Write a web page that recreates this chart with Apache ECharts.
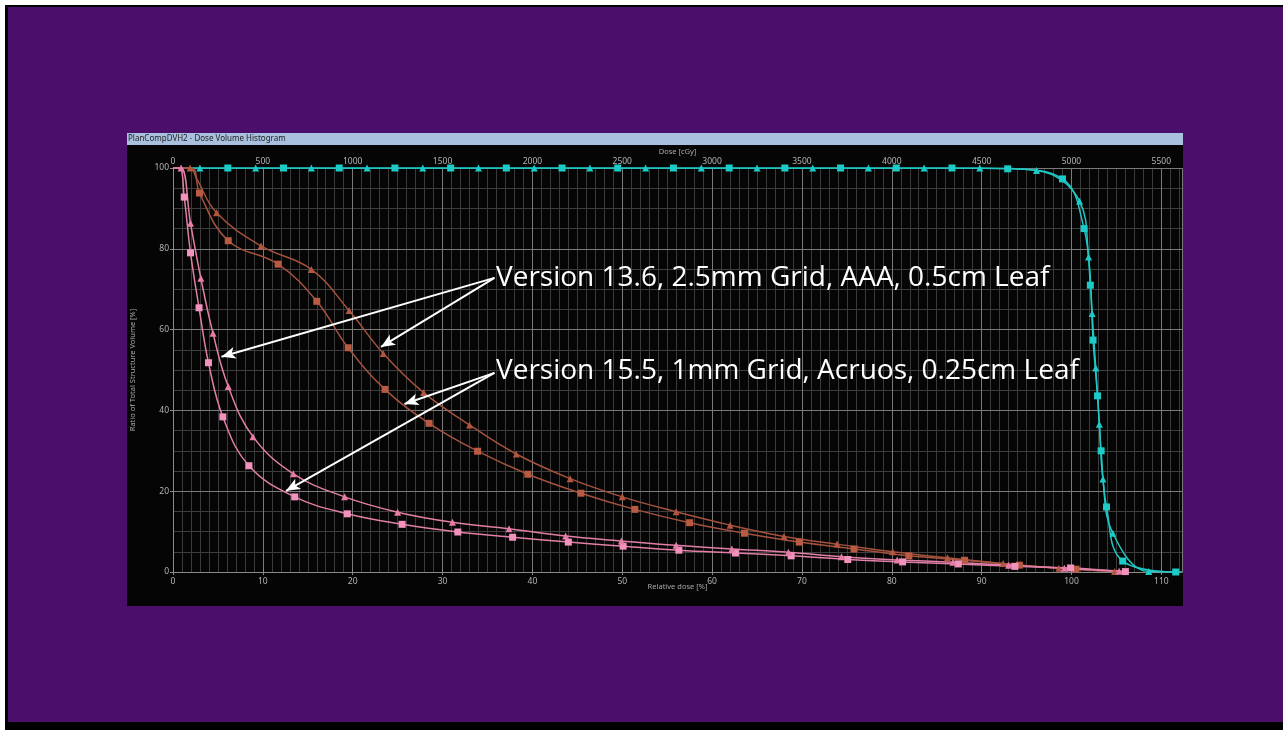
<!DOCTYPE html>
<html>
<head>
<meta charset="utf-8">
<script src="https://cdn.jsdelivr.net/npm/echarts@6/dist/echarts.min.js"></script>
<style>
  html, body { margin: 0; padding: 0; width: 1283px; height: 730px; background: #fff; overflow: hidden; }
  #slide { position: absolute; left: 5px; top: 5px; width: 1290px; height: 725px; background: #000; }
  #slide-face { position: absolute; left: 8px; top: 7px; width: 1290px; height: 715px; background: #4b0f6b; }
  #titlebar { position: absolute; left: 127px; top: 133px; width: 1056px; height: 12px; background: #a9c1de; }
  #panel { position: absolute; left: 127px; top: 145px; width: 1056px; height: 461px; background: #050505; }
  #chart { position: absolute; left: 0; top: 0; width: 1283px; height: 730px; }
</style>
</head>
<body>
<div id="slide"></div>
<div id="slide-face"></div>
<div id="titlebar"></div>
<div id="panel"></div>
<div id="chart"></div>
<script>
// Dose volume histogram: relative dose [%] vs. ratio of structure volume [%]
// Each point: [relative dose %, volume %, marker shown (1) or not (0)]

const relDoseTicks = [0, 10, 20, 30, 40, 50, 60, 70, 80, 90, 100, 110];
const doseTicksCGy = [0, 500, 1000, 1500, 2000, 2500, 3000, 3500, 4000, 4500, 5000, 5500];
const volumeTicks = [0, 20, 40, 60, 80, 100];
const relDoseMax = 112.3;
const prescriptionCGy = 5000;

// Target volume, plan calculated with version 15.5 (squares)
const targetSquares = [
  [0, 100, 0], [6.1, 100, 1], [12.3, 100, 1], [18.5, 100, 1], [24.7, 100, 1], [30.9, 100, 1],
  [37.1, 100, 1], [43.3, 100, 1], [49.5, 100, 1], [55.7, 100, 1], [61.9, 100, 1], [68.1, 100, 1],
  [74.3, 100, 1], [80.5, 100, 1], [86.7, 100, 1], [92.9, 99.8, 1], [99.0, 97.3, 1], [101.4, 85.0, 1],
  [102.1, 71.0, 1], [102.4, 57.4, 1], [102.9, 43.6, 1], [103.3, 30.0, 1], [103.9, 16.1, 1],
  [105.7, 2.7, 1], [111.6, 0.0, 1]
];
// Target volume, version 13.6 (triangles)
const targetTriangles = [
  [0, 100, 0], [3.0, 100, 1], [9.2, 100, 1], [15.4, 100, 1], [21.6, 100, 1], [27.8, 100, 1],
  [34.0, 100, 1], [40.2, 100, 1], [46.4, 100, 1], [52.6, 100, 1], [58.8, 100, 1], [65.0, 100, 1],
  [71.2, 100, 1], [77.4, 100, 1], [83.6, 100, 1], [89.8, 100, 1], [96.1, 99.4, 1], [100.9, 91.8, 1],
  [101.9, 78.0, 1], [102.3, 64.0, 1], [102.7, 50.5, 1], [103.1, 36.6, 1], [103.5, 23.0, 1],
  [104.6, 9.6, 1], [108.6, 0.1, 1], [112.3, 0.0, 0]
];
// Organ A (brown), version 15.5
const organASquares = [
  [0, 100, 0], [2.1, 100, 0], [2.95, 93.8, 1], [6.15, 82.0, 1], [11.7, 76.2, 1], [16.0, 67.0, 1],
  [19.5, 55.5, 1], [23.6, 45.2, 1], [28.5, 36.8, 1], [33.9, 29.9, 1], [39.5, 24.2, 1], [45.4, 19.5, 1],
  [51.4, 15.5, 1], [57.5, 12.2, 1], [63.6, 9.6, 1], [69.7, 7.4, 1], [75.8, 5.7, 1], [81.9, 4.0, 1],
  [88.1, 2.9, 1], [94.2, 1.7, 1], [100.5, 0.7, 1], [106.0, 0.0, 0]
];
// Organ A (brown), version 13.6
const organATriangles = [
  [0, 100, 0], [1.9, 100, 1], [2.6, 97.5, 0], [4.85, 88.9, 1], [9.8, 80.7, 1], [15.4, 74.9, 1],
  [19.6, 64.7, 1], [23.4, 54.1, 1], [27.9, 44.4, 1], [33.0, 36.4, 1], [38.2, 29.2, 1], [44.2, 23.1, 1],
  [50.0, 18.6, 1], [56.0, 14.9, 1], [62.0, 11.6, 1], [68.0, 8.8, 1], [73.9, 6.9, 1], [80.1, 5.0, 1],
  [86.2, 3.5, 1], [92.4, 2.1, 1], [98.6, 0.9, 1], [104.8, 0.1, 1]
];
// Organ B (pink), version 15.5
const organBSquares = [
  [0, 100, 0], [0.75, 100, 0], [1.25, 92.8, 1], [1.95, 79.0, 1], [2.9, 65.4, 1], [3.95, 51.8, 1],
  [5.55, 38.4, 1], [8.45, 26.3, 1], [13.55, 18.6, 1], [19.4, 14.4, 1], [25.5, 11.8, 1], [31.7, 9.9, 1],
  [37.8, 8.6, 1], [44.0, 7.4, 1], [50.1, 6.4, 1], [56.3, 5.4, 1], [62.6, 4.7, 1], [68.8, 4.0, 1],
  [75.1, 3.1, 1], [81.2, 2.5, 1], [87.4, 2.0, 1], [93.7, 1.4, 1], [99.9, 1.0, 1], [106.0, 0.1, 1]
];
// Organ B (pink), version 13.6
const organBTriangles = [
  [0, 100, 0], [0.9, 100, 1], [1.95, 86.3, 1], [3.1, 72.7, 1], [4.45, 59.1, 1], [6.15, 45.9, 1],
  [8.9, 33.5, 1], [13.4, 24.3, 1], [19.1, 18.6, 1], [25.0, 14.8, 1], [31.1, 12.3, 1], [37.4, 10.7, 1],
  [43.7, 8.9, 1], [49.9, 7.7, 1], [56.0, 6.6, 1], [62.2, 5.7, 1], [68.5, 4.9, 1], [74.4, 3.8, 1],
  [80.6, 3.0, 1], [86.8, 2.4, 1], [93.0, 1.7, 1], [99.2, 0.9, 1], [105.3, 0.2, 1]
];

const labelV136 = 'Version 13.6, 2.5mm Grid, AAA, 0.5cm Leaf';
const labelV155 = 'Version 15.5, 1mm Grid, Acruos, 0.25cm Leaf';

// Callout arrows in data coordinates: [from, to]
const calloutV136 = [[[35.78, 72.8], [5.4, 53.3]], [[35.78, 72.8], [23.15, 55.7]]];
const calloutV155 = [[[35.78, 49.3], [25.76, 41.6]], [[35.78, 49.3], [12.58, 20.1]]];

const chart = echarts.init(document.getElementById('chart'), null, { renderer: 'canvas' });

function toData(points) {
  return points.map(p => p[2] ? { value: [p[0], p[1]] } : { value: [p[0], p[1]], symbol: 'none' });
}

function curve(name, points, shape, lineColor, markerColor, size) {
  return {
    type: 'line',
    name: name,
    xAxisIndex: 0,
    yAxisIndex: 0,
    data: toData(points),
    smooth: 0.4,
    symbol: shape,
    symbolSize: size,
    showAllSymbol: true,
    lineStyle: { color: lineColor, width: 1.5 },
    itemStyle: { color: markerColor },
    emphasis: { disabled: true },
    silent: true,
    z: 3
  };
}

const arrowLines = calloutV136.concat(calloutV155).map(seg => [{ coord: seg[0] }, { coord: seg[1] }]);

const tickFont = { color: '#b4b4b4', fontSize: 8.5, fontFamily: 'Noto Sans' };
const nameFont = { color: '#a8a8a8', fontSize: 7.5, fontFamily: 'Noto Sans' };
const axisGray = '#8a8a8a';

const pinkTri = curve('Organ B v13.6', organBTriangles, 'triangle', '#e27fa6', '#e77ca6', 7);
pinkTri.markLine = {
  silent: true,
  animation: false,
  symbol: ['none', 'arrow'],
  symbolSize: [9, 14],
  label: { show: false },
  emphasis: { disabled: true },
  lineStyle: { color: '#ffffff', width: 2, type: 'solid', opacity: 1 },
  data: arrowLines
};

const option = {
  animation: false,
  backgroundColor: 'transparent',
  title: {
    text: 'PlanCompDVH2 - Dose Volume Histogram',
    left: 128,
    top: 134.5,
    padding: 0,
    textStyle: { color: '#1c1c1c', fontSize: 8, fontWeight: 'normal', fontFamily: 'Noto Sans' }
  },
  grid: { left: 173, top: 168, width: 1009, height: 404, containLabel: false },
  xAxis: [
    {
      type: 'value', position: 'bottom', min: 0, max: relDoseMax,
      interval: relDoseTicks[1] - relDoseTicks[0], z: 1,
      name: 'Relative dose [%]', nameLocation: 'middle', nameGap: 11, nameMoveOverlap: false,
      nameTextStyle: nameFont,
      axisLine: { show: true, lineStyle: { color: axisGray, width: 1 } },
      axisTick: { show: true, length: 3, lineStyle: { color: axisGray } },
      axisLabel: {
        ...tickFont, margin: 5, showMaxLabel: false,
        formatter: v => relDoseTicks.includes(v) ? String(v) : ''
      },
      splitLine: { show: true, lineStyle: { color: '#7a7a7a', width: 1 } }
    },
    {
      type: 'value', position: 'top', min: 0, max: relDoseMax * prescriptionCGy / 100,
      interval: doseTicksCGy[1] - doseTicksCGy[0], z: 1,
      name: 'Dose [cGy]', nameLocation: 'middle', nameGap: 12, nameMoveOverlap: false,
      nameTextStyle: nameFont,
      axisLine: { show: true, lineStyle: { color: axisGray, width: 1 } },
      axisTick: { show: true, length: 3, lineStyle: { color: axisGray } },
      axisLabel: {
        ...tickFont, margin: 1.5, showMaxLabel: false,
        formatter: v => doseTicksCGy.includes(v) ? String(v) : ''
      },
      splitLine: { show: false }
    },
    {
      // fine 1 % grid
      type: 'value', position: 'bottom', min: 0, max: relDoseMax, interval: 1, z: 0,
      axisLine: { show: false }, axisTick: { show: false }, axisLabel: { show: false },
      splitLine: { show: true, lineStyle: { color: '#3a3a3a', width: 1 } }
    }
  ],
  yAxis: [
    {
      type: 'value', position: 'left', min: 0, max: 100,
      interval: volumeTicks[1] - volumeTicks[0], z: 1,
      name: 'Ratio of Total Structure Volume [%]', nameLocation: 'middle', nameGap: 36,
      nameMoveOverlap: false, nameTextStyle: nameFont,
      axisLine: { show: true, lineStyle: { color: axisGray, width: 1 } },
      axisTick: { show: true, length: 3, lineStyle: { color: axisGray } },
      axisLabel: { ...tickFont, margin: 4 },
      splitLine: { show: true, lineStyle: { color: '#7a7a7a', width: 1 } }
    },
    {
      // fine 5 % grid
      type: 'value', position: 'left', min: 0, max: 100, interval: 5, z: 0,
      axisLine: { show: false }, axisTick: { show: false }, axisLabel: { show: false },
      splitLine: { show: true, lineStyle: { color: '#3e3e3e', width: 1 } }
    }
  ],
  graphic: [
    {
      type: 'text', left: 496, top: 264, z: 100, silent: true,
      style: { text: labelV136, fill: '#ffffff', font: '28px "Open Sans"' }
    },
    {
      type: 'text', left: 496, top: 357, z: 100, silent: true,
      style: { text: labelV155, fill: '#ffffff', font: '28px "Open Sans"' }
    }
  ],
  series: [
    curve('Target v15.5', targetSquares, 'rect', '#20c6c3', '#1ccac7', 7),
    curve('Target v13.6', targetTriangles, 'triangle', '#20c6c3', '#1ccac7', 7),
    curve('Organ A v15.5', organASquares, 'rect', '#a4523e', '#b95a43', 7),
    curve('Organ A v13.6', organATriangles, 'triangle', '#a4523e', '#b35640', 7),
    curve('Organ B v15.5', organBSquares, 'rect', '#e27fa6', '#f293bd', 7),
    pinkTri
  ]
};

chart.setOption(option);
</script>
</body>
</html>
